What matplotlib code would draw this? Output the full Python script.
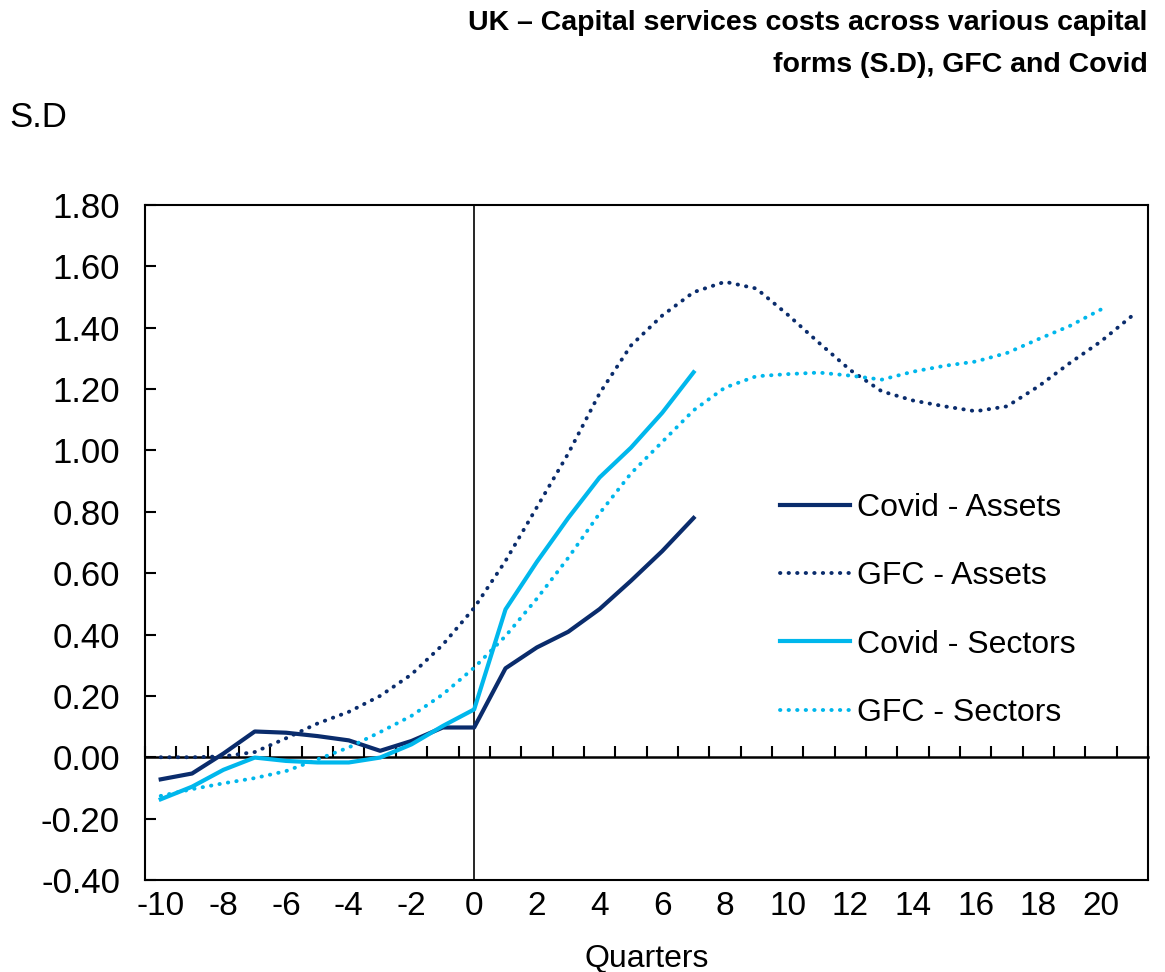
import matplotlib
matplotlib.use("Agg")
from matplotlib import pyplot as plt

plt.rcParams["font.family"] = ["Liberation Sans", "DejaVu Sans"]

TITLE = "UK \u2013 Capital services costs across various capital\nforms (S.D), GFC and Covid"

quarters_covid = list(range(-10, 8))
quarters_gfc_assets = list(range(-10, 22))
quarters_gfc_sectors = list(range(-10, 21))

covid_assets = [-0.072, -0.053, 0.012, 0.084, 0.080, 0.069, 0.055, 0.021, 0.053, 0.097,
                0.097, 0.290, 0.358, 0.409, 0.483, 0.575, 0.672, 0.780]
covid_sectors = [-0.137, -0.096, -0.041, -0.001, -0.012, -0.017, -0.017, -0.001, 0.042, 0.102,
                 0.156, 0.482, 0.637, 0.780, 0.912, 1.009, 1.123, 1.255]
gfc_assets = [0.0, 0.0, 0.003, 0.017, 0.062, 0.110, 0.148, 0.200, 0.270, 0.367,
              0.487, 0.640, 0.815, 0.990, 1.186, 1.342, 1.440, 1.516, 1.550, 1.528,
              1.443, 1.351, 1.262, 1.193, 1.163, 1.144, 1.128, 1.144, 1.209, 1.285,
              1.356, 1.440]
gfc_sectors = [-0.126, -0.104, -0.085, -0.068, -0.045, -0.007, 0.032, 0.082, 0.135, 0.205,
               0.292, 0.395, 0.517, 0.650, 0.795, 0.925, 1.028, 1.131, 1.205, 1.242,
               1.249, 1.254, 1.244, 1.231, 1.257, 1.276, 1.290, 1.318, 1.363, 1.406,
               1.460]

y_ticks = [-0.40, -0.20, 0.00, 0.20, 0.40, 0.60, 0.80, 1.00, 1.20, 1.40, 1.60, 1.80]
x_ticks = list(range(-10, 21, 2))

NAVY = "#0A2C6C"
LIGHT = "#00B7EC"

fig = plt.figure(figsize=(11.65, 9.72), dpi=100)
ax = fig.add_axes([0.1245, 0.0947, 0.861, 0.6943])

ax.plot(quarters_covid, covid_assets, color=NAVY, lw=3, label="Covid - Assets")
ax.plot(quarters_gfc_assets, gfc_assets, color=NAVY, lw=2.8, linestyle=(0, (0.1, 2.1)),
        dash_capstyle="round", label="GFC - Assets")
ax.plot(quarters_covid, covid_sectors, color=LIGHT, lw=3, label="Covid - Sectors")
ax.plot(quarters_gfc_sectors, gfc_sectors, color=LIGHT, lw=2.8, linestyle=(0, (0.1, 2.1)),
        dash_capstyle="round", label="GFC - Sectors")

ax.set_xlim(-10.5, 21.5)
ax.set_ylim(-0.40, 1.80)
ax.axvline(0, color="black", lw=1.2, zorder=1)

for s in ax.spines.values():
    s.set_linewidth(1.5)

ax.set_yticks(y_ticks, [f"{v:.2f}" for v in y_ticks])
ax.tick_params(axis="y", direction="in", length=8, width=1.5, labelsize=25, pad=18)
ax.set_xticks(x_ticks, [str(v) for v in x_ticks])
ax.tick_params(axis="x", length=0, labelsize=24, pad=8)

# zero line carrying the category-boundary ticks
zero = ax.secondary_xaxis(0.4 / 2.2)
zero.spines["bottom"].set_linewidth(1.8)
zero.set_xticks([q + 0.5 for q in range(-11, 22)])
zero.tick_params(direction="in", length=8, width=1.5, labelbottom=False)

ax.set_xlabel("Quarters", fontsize=23, labelpad=16)

ax.legend(loc="center left", bbox_to_anchor=(0.645, 0.372), bbox_transform=fig.transFigure,
          frameon=False, fontsize=23, handlelength=2.2, handletextpad=0.2, labelspacing=1.2)

fig.text(0.985, 0.99, TITLE, ha="right", va="top", fontsize=20.5, fontweight="bold",
         linespacing=1.8)
fig.text(0.008, 0.879, "S.D", ha="left", va="center", fontsize=25)

fig.savefig("out.png", dpi=100)
